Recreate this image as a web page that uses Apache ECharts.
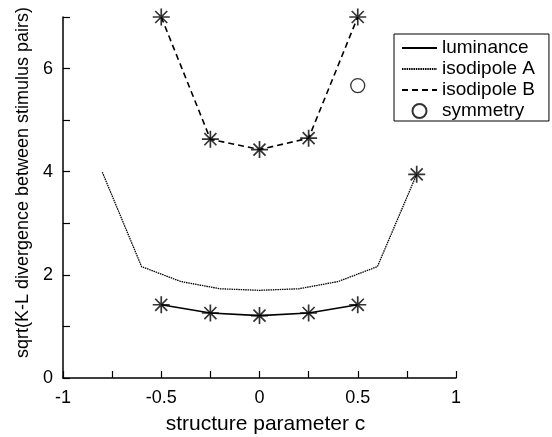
<!DOCTYPE html>
<html>
<head>
<meta charset="utf-8">
<script src="https://cdn.jsdelivr.net/npm/echarts@6/dist/echarts.min.js"></script>
<style>
html,body{margin:0;padding:0;background:#fff;}
#chart{width:552px;height:437px;}
</style>
</head>
<body>
<div id="chart"></div>
<script>
// ---- data ----
var lumX = [-0.5, -0.25, 0, 0.25, 0.5];
var lumY = [1.42, 1.26, 1.21, 1.26, 1.42];

var isoAX = [-0.8, -0.6, -0.4, -0.2, 0, 0.2, 0.4, 0.6, 0.8];
var isoAY = [3.99, 2.16, 1.87, 1.73, 1.70, 1.73, 1.87, 2.16, 3.95];
var isoAStarX = [0.8];
var isoAStarY = [3.95];

var isoBX = [-0.5, -0.25, 0, 0.25, 0.5];
var isoBY = [7.0, 4.63, 4.43, 4.65, 7.0];

var symX = [0.5];
var symY = [5.67];

var xTicks = [-1, -0.5, 0, 0.5, 1];
var yTicks = [0, 2, 4, 6];

var legendNames = ['luminance', 'isodipole A', 'isodipole B', 'symmetry'];

function pairs(xs, ys) { return xs.map(function (x, i) { return [x, ys[i]]; }); }

var FONT = '"Liberation Sans", Arial, sans-serif';
var STAR = 'path://M10,0L10,20M0,10L20,10M2.93,2.93L17.07,17.07M2.93,17.07L17.07,2.93';
var starStyle = { color: 'rgba(0,0,0,0)', borderColor: '#000', borderWidth: 1.7 };

var legendData = legendNames.map(function (n, i) {
  return i < 3 ? { name: n, itemStyle: { opacity: 0 } } : { name: n };
});

var chart = echarts.init(document.getElementById('chart'), null, { renderer: 'canvas' });
chart.setOption({
  animation: false,
  backgroundColor: '#fff',
  color: ['#000'],
  textStyle: { fontFamily: FONT, color: '#000' },
  grid: { left: 63, right: 96, top: 17, bottom: 59, containLabel: false, outerBoundsMode: 'none' },
  legend: {
    data: legendData,
    orient: 'vertical',
    left: 394,
    top: 34,
    itemWidth: 35,
    itemHeight: 14,
    itemGap: 1,
    padding: [4, 14, 0, 7],
    borderColor: '#000',
    borderWidth: 1,
    backgroundColor: '#fff',
    textStyle: { fontSize: 19, color: '#000', fontFamily: FONT, lineHeight: 20 },
    selectedMode: false
  },
  xAxis: {
    type: 'value',
    min: -1, max: 1, interval: 0.25,
    name: 'structure parameter c',
    nameLocation: 'middle',
    nameGap: 36,
    nameTextStyle: { fontSize: 21, color: '#000', fontFamily: FONT, padding: [0, 0, 0, 12] },
    axisLine: { show: true, onZero: false, lineStyle: { color: '#000', width: 1.5 } },
    axisTick: { show: true, inside: true, length: 7, lineStyle: { color: '#000', width: 1.2 } },
    axisLabel: {
      margin: 11, fontSize: 18, color: '#000', fontFamily: FONT,
      formatter: function (v) {
        for (var i = 0; i < xTicks.length; i++) if (Math.abs(v - xTicks[i]) < 1e-9) return String(xTicks[i]);
        return '';
      }
    },
    splitLine: { show: false }
  },
  yAxis: {
    type: 'value',
    min: 0, max: 7, interval: 1,
    name: 'sqrt(K-L divergence between stimulus pairs)',
    nameLocation: 'middle',
    nameGap: 30,
    nameTextStyle: { fontSize: 18, color: '#000', fontFamily: FONT, padding: [0, 0, 0, 30] },
    axisLine: { show: true, onZero: false, lineStyle: { color: '#000', width: 1.5 } },
    axisTick: { show: true, inside: true, length: 7, lineStyle: { color: '#000', width: 1.2 } },
    axisLabel: {
      margin: 10, fontSize: 18, color: '#000', fontFamily: FONT,
      formatter: function (v) {
        for (var i = 0; i < yTicks.length; i++) if (Math.abs(v - yTicks[i]) < 1e-9) return String(yTicks[i]);
        return '';
      }
    },
    splitLine: { show: false }
  },
  series: [
    {
      name: 'luminance', type: 'line', data: pairs(lumX, lumY),
      symbol: 'none', itemStyle: { color: '#000' },
      lineStyle: { color: '#000', width: 1.6, type: 'solid' }, z: 3
    },
    {
      name: 'lumStars', type: 'scatter', data: pairs(lumX, lumY),
      symbol: STAR, symbolSize: 17, itemStyle: starStyle, z: 5
    },
    {
      name: 'isodipole A', type: 'line', data: pairs(isoAX, isoAY),
      symbol: 'none', itemStyle: { color: '#000' },
      lineStyle: { color: '#000', width: 1.3, type: [1.5, 0.8] }, z: 3
    },
    {
      name: 'isoAStars', type: 'scatter', data: pairs(isoAStarX, isoAStarY),
      symbol: STAR, symbolSize: 17, itemStyle: starStyle, z: 5
    },
    {
      name: 'isodipole B', type: 'line', data: pairs(isoBX, isoBY),
      symbol: 'none', itemStyle: { color: '#000' },
      lineStyle: { color: '#000', width: 1.6, type: [6, 4] }, z: 3
    },
    {
      name: 'isoBStars', type: 'scatter', data: pairs(isoBX, isoBY),
      symbol: STAR, symbolSize: 17, itemStyle: starStyle, z: 5
    },
    {
      name: 'symmetry', type: 'scatter', data: pairs(symX, symY),
      symbol: 'circle', symbolSize: 14,
      itemStyle: { color: '#fff', borderColor: '#000', borderWidth: 1.3 }, z: 5
    }
  ]
});
</script>
</body>
</html>
